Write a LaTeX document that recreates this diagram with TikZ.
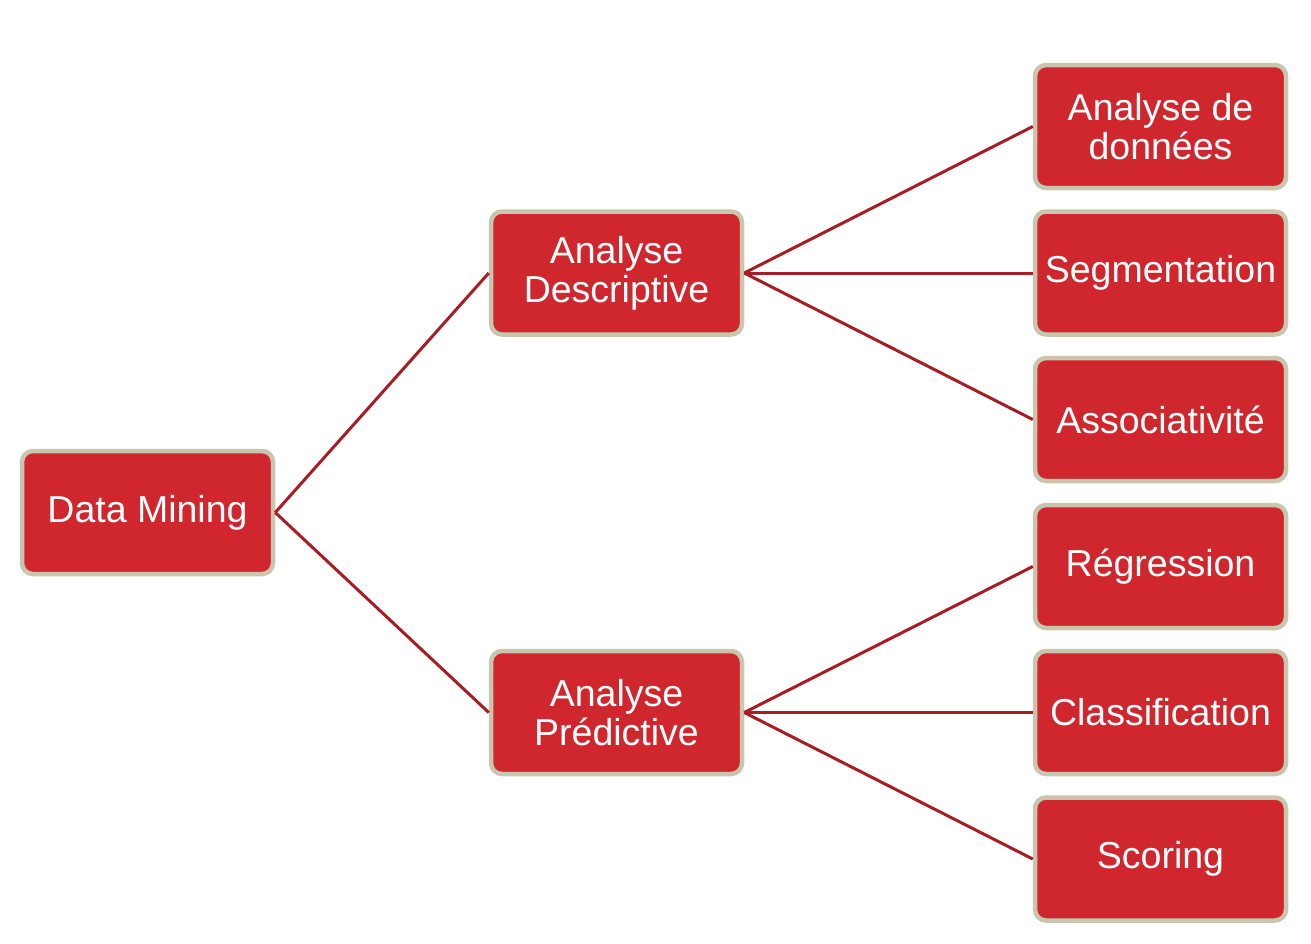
\documentclass[tikz,border=0pt]{standalone}
\usepackage{fontspec}
\setmainfont{Liberation Sans}
\definecolor{boxfill}{HTML}{D0262D}
\definecolor{boxedge}{HTML}{C8C6AE}
\definecolor{linkcol}{HTML}{A81D24}
\begin{document}
\begin{tikzpicture}[x=1pt,y=-1pt,
  box/.style={draw=boxedge, line width=4.5pt, fill=boxfill, rounded corners=11pt,
    minimum width=251pt, minimum height=123pt, inner sep=0pt, align=center,
    text=white, font=\fontsize{37.5}{39}\selectfont},
  link/.style={draw=linkcol, line width=3pt}]
\useasboundingbox (0,0) rectangle (1311,943);
\node[box] (dm) at (147.5,512.5) {Data Mining};
\node[box] (ad) at (616.5,273) {Analyse\\Descriptive};
\node[box] (ap) at (616.5,712.5) {Analyse\\Prédictive};
\node[box] (r1) at (1160.5,126.5) {Analyse de\\données};
\node[box] (r2) at (1160.5,273) {Segmentation};
\node[box] (r3) at (1160.5,419.5) {Associativité};
\node[box] (r4) at (1160.5,566.5) {Régression};
\node[box] (r5) at (1160.5,712.5) {Classification};
\node[box] (r6) at (1160.5,859) {Scoring};
\foreach \a/\b in {dm/ad, dm/ap, ad/r1, ad/r2, ad/r3, ap/r4, ap/r5, ap/r6}
  \draw[link] (\a.east) -- (\b.west);
\end{tikzpicture}
\end{document}
